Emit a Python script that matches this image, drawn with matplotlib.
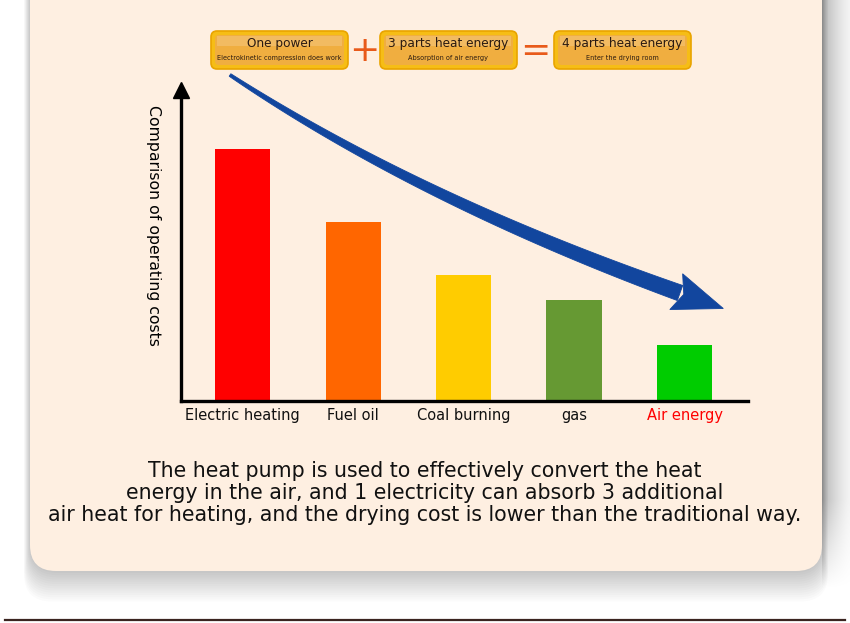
import numpy as np
import matplotlib.pyplot as plt
from matplotlib.patches import FancyBboxPatch, Polygon, Rectangle

# ---- data ----
categories = ["Electric heating", "Fuel oil", "Coal burning", "gas", "Air energy"]
costs = [4.5, 3.2, 2.25, 1.8, 1.0]
bar_colors = ["#FF0000", "#FF6600", "#FFCC00", "#669933", "#00CC00"]
label_colors = ["#111111", "#111111", "#111111", "#111111", "#FF0000"]

box_titles = ["One power", "3 parts heat energy", "4 parts heat energy"]
box_subtitles = ["Electrokinetic compression does work",
                 "Absorption of air energy",
                 "Enter the drying room"]
summary = ("The heat pump is used to effectively convert the heat\n"
           "energy in the air, and 1 electricity can absorb 3 additional\n"
           "air heat for heating, and the drying cost is lower than the traditional way.")

W, H = 850, 623
CARD = "#FEEFE1"

fig = plt.figure(figsize=(W / 100, H / 100), dpi=100)
fig.patch.set_facecolor("white")

# --- background layer (pixel coords, y down) ---
bg = fig.add_axes([0, 0, 1, 1], zorder=-5)
bg.set_xlim(0, W)
bg.set_ylim(H, 0)
bg.axis("off")

# grey gradient on the right of the card, fading out near the bottom
gx = np.linspace(0, 1, 40)[None, :]
gy = np.linspace(-10, 600, 300)[:, None]
fade = np.clip((590 - gy) / 90, 0, 1)
alpha = (0.24 * (1 - gx) ** 1.3 + 0.05) * fade
rgba = np.zeros((300, 40, 4))
rgba[..., 3] = alpha
bg.imshow(rgba, extent=(822, 850, 600, -10), aspect="auto", zorder=0,
          interpolation="bilinear")
# soft shadow under the card
for i in range(14):
    pad = 2 + i * 2.2
    bg.add_patch(FancyBboxPatch((30 - pad * 0.2, -40), 792 + pad * 0.4, 611 + pad,
                                boxstyle="round,pad=0,rounding_size=28",
                                fc="#000000", ec="none", alpha=0.016, zorder=1))
bg.add_patch(FancyBboxPatch((30, -40), 792, 611,
                            boxstyle="round,pad=0,rounding_size=26",
                            fc=CARD, ec="none", zorder=2))
bg.plot([5, 845], [620, 620], color="#3A2420", lw=1.6)
bg.set_xlim(0, W)
bg.set_ylim(H, 0)

# --- main chart ---
ax = fig.add_axes([181 / W, (H - 401) / H, (748 - 181) / W, (401 - 90) / H])
ax.set_facecolor("none")
x = np.arange(len(categories))
ax.bar(x, costs, width=0.5, color=bar_colors, zorder=2)
ax.set_xlim(-0.56, 4.575)
ax.set_ylim(0, 5.55)
for s in ["top", "right"]:
    ax.spines[s].set_visible(False)
for s in ["left", "bottom"]:
    ax.spines[s].set_linewidth(2.4)
    ax.spines[s].set_color("black")
ax.plot(0, 1, marker="^", markersize=11, color="black",
        transform=ax.transAxes, clip_on=False)
ax.set_yticks([])
ax.set_xticks(x)
ax.set_xticklabels(categories, fontsize=10.5)
ax.tick_params(axis="x", length=0, pad=5)
for lbl, c in zip(ax.get_xticklabels(), label_colors):
    lbl.set_color(c)
ax.set_ylabel("Comparison of operating costs", rotation=270, fontsize=11.3,
              labelpad=0)
ax.yaxis.set_label_coords(-0.062, 0.565)

# --- overlay: formula boxes, arrow, caption ---
ov = fig.add_axes([0, 0, 1, 1], zorder=10)
ov.set_facecolor("none")
ov.set_xlim(0, W)
ov.set_ylim(H, 0)
ov.axis("off")

box_x = [211, 380, 554]
for bx, t, s in zip(box_x, box_titles, box_subtitles):
    ov.add_patch(FancyBboxPatch((bx, 31), 137, 38,
                                boxstyle="round,pad=0,rounding_size=6",
                                fc="#F6BD16", ec="#E9A400", lw=1.2))
    ov.add_patch(FancyBboxPatch((bx + 4, 35), 129, 30,
                                boxstyle="round,pad=0,rounding_size=4",
                                fc="#F0AE40", ec="none"))
    ov.add_patch(Rectangle((bx + 6, 36), 125, 10, fc="#F5C57A", ec="none",
                           alpha=0.6))
    ov.text(bx + 68.5, 43, t, ha="center", va="center", fontsize=8.7,
            color="#2A1A10")
    ov.text(bx + 68.5, 58, s, ha="center", va="center", fontsize=4.7,
            color="#2A1A10")
ov.text(364, 51, "+", ha="center", va="center", fontsize=26,
        color="#E85A1A")
ov.text(535, 51, "=", ha="center", va="center", fontsize=26,
        color="#E85A1A")

# tapered curved arrow (quadratic bezier)
p0 = np.array([230.0, 75.0])
p1 = np.array([420.0, 200.0])
p2 = np.array([680.0, 293.0])
t = np.linspace(0, 1, 80)[:, None]
pts = (1 - t) ** 2 * p0 + 2 * t * (1 - t) * p1 + t ** 2 * p2
d = 2 * (1 - t) * (p1 - p0) + 2 * t * (p2 - p1)
d = d / np.linalg.norm(d, axis=1, keepdims=True)
n = np.column_stack([-d[:, 1], d[:, 0]])
w = (1.5 + 6.5 * t[:, 0] ** 0.9)[:, None]
shaft = np.vstack([pts + n * w, (pts - n * w)[::-1]])
arrow_c = "#12469E"
ov.add_patch(Polygon(shaft, closed=True, fc=arrow_c, ec=arrow_c, lw=0.6))
dend = d[-1]
nend = n[-1]
base = p2 - dend * 4
head = np.array([base + nend * 19, base + dend * 50, base - nend * 19,
                 base + dend * 8])
ov.add_patch(Polygon(head, closed=True, fc=arrow_c, ec=arrow_c, lw=0.6))

ov.text(425, 493, summary, ha="center", va="center", fontsize=14.8,
        linespacing=1.15, color="#111111")

fig.savefig("out.png", dpi=100, facecolor=fig.get_facecolor())
